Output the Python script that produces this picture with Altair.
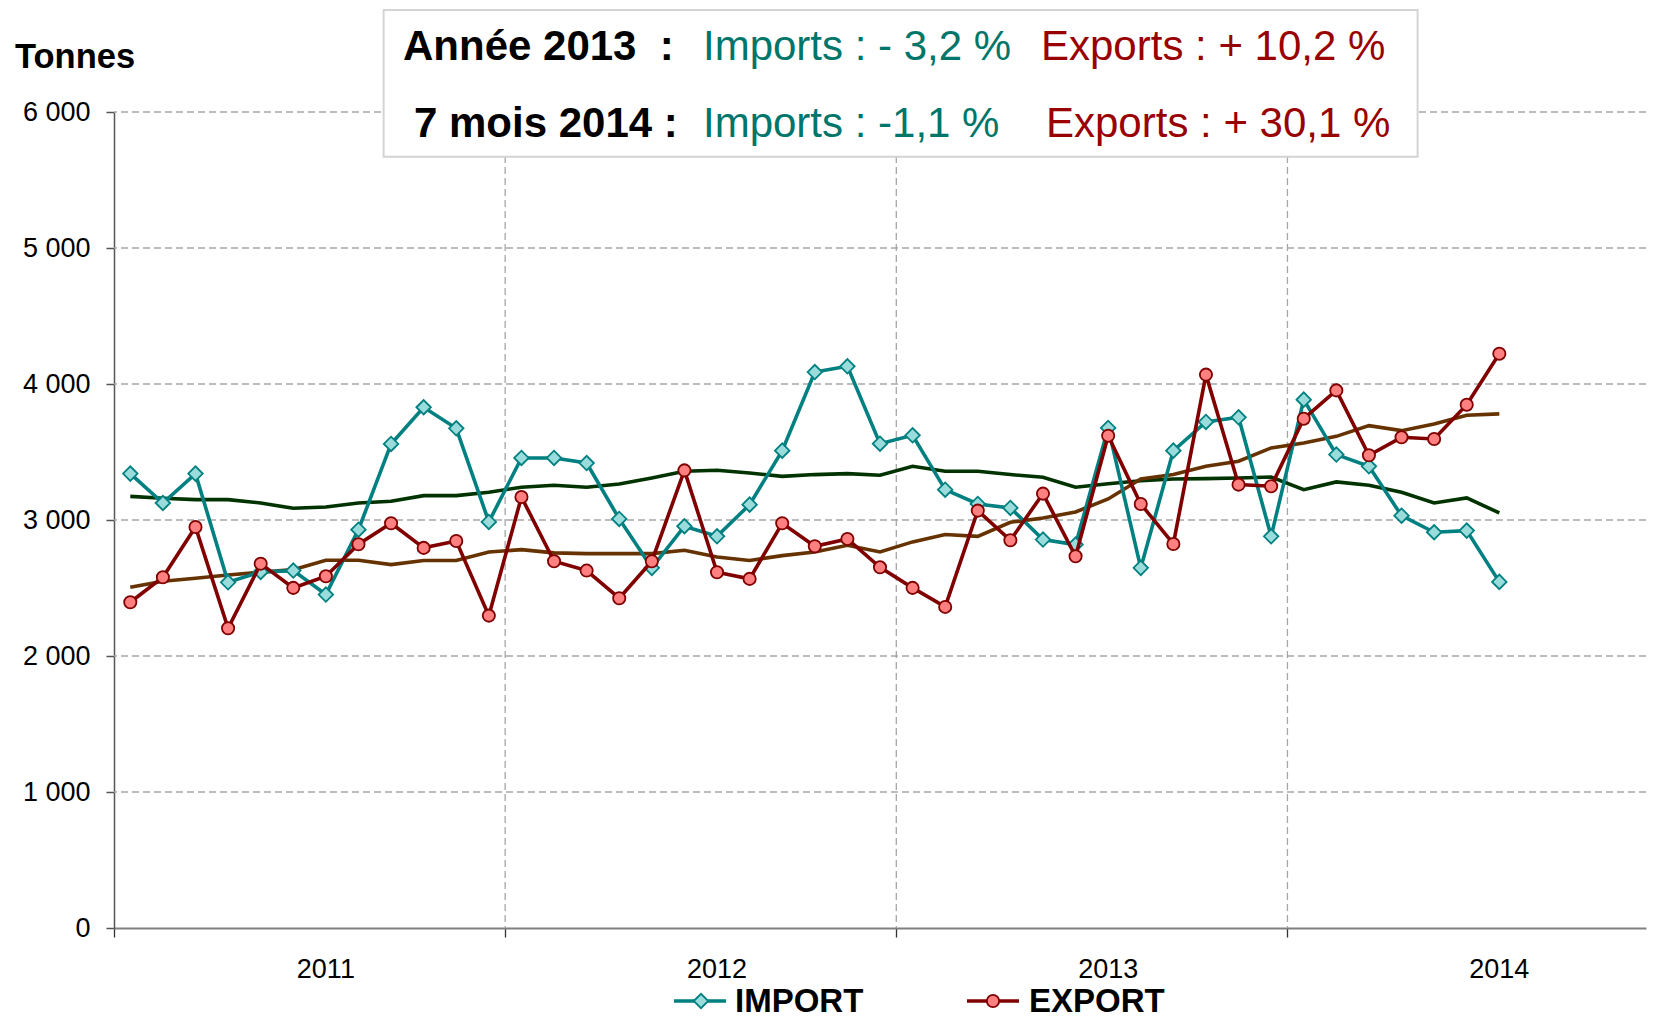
import altair as alt
import pandas as pd

# ---------------- data ----------------
years = [2011, 2012, 2013, 2014]

imports = [3341, 3125, 3341, 2542, 2618, 2628, 2452, 2929, 3559, 3829, 3674, 2986,
           3456, 3456, 3419, 3008, 2648, 2954, 2880, 3113, 3510, 4088, 4130, 3561,
           3623, 3223, 3118, 3089, 2856, 2819, 3677, 2648, 3510, 3721, 3755, 2880,
           3885, 3481, 3395, 3032, 2910, 2922, 2545]

exports = [2395, 2579, 2949, 2204, 2679, 2501, 2586, 2822, 2976, 2795, 2846, 2297,
           3169, 2697, 2628, 2425, 2697, 3365, 2616, 2567, 2976, 2807, 2861, 2652,
           2501, 2361, 3069, 2851, 3194, 2733, 3620, 3118, 2824, 4069, 3260, 3248,
           3745, 3953, 3476, 3608, 3596, 3848, 4223]

imports_ma = [3174, 3160, 3150, 3150, 3125, 3086, 3096, 3125, 3138, 3179, 3179, 3204,
              3241, 3255, 3241, 3265, 3309, 3358, 3366, 3346, 3321, 3334, 3341, 3329,
              3395, 3358, 3358, 3334, 3314, 3241, 3267, 3289, 3302, 3304, 3309, 3316,
              3223, 3280, 3255, 3204, 3125, 3162, 3052]

exports_ma = [2505, 2550, 2572, 2596, 2616, 2635, 2704, 2704, 2672, 2702, 2702, 2765,
              2782, 2758, 2753, 2753, 2753, 2777, 2728, 2702, 2738, 2765, 2814, 2765,
              2839, 2893, 2880, 2983, 3015, 3059, 3155, 3302, 3334, 3395, 3432, 3530,
              3566, 3615, 3694, 3657, 3706, 3770, 3780]

y_ticks = [0, 1000, 2000, 3000, 4000, 5000, 6000]
year_bounds = [12, 24, 36]

title_l1 = ["Année 2013\u00a0\u00a0:", "Imports : - 3,2 %", "Exports : + 10,2 %"]
title_l2 = ["7 mois 2014 :", "Imports : -1,1 %", "Exports : + 30,1 %"]
legend_labels = ["IMPORT", "EXPORT"]

# ---------------- tables ----------------
n = len(imports)
df = pd.DataFrame({
    "t": [i + 0.5 for i in range(n)],
    "imp": imports, "exp": exports,
    "imp_ma": imports_ma, "exp_ma": exports_ma,
})
years_df = pd.DataFrame({"year": years})
one = pd.DataFrame({"k": [0]})

FONT = "Liberation Sans"
TEAL = "#008080"
TEAL_FILL = "#9adcdc"
DRED = "#800000"
RED_FILL = "#ff8080"
TEAL_TXT = "#00766a"
RED_TXT = "#990000"

DIAMOND = 210
CIRCLE = 150
LW = 3.6

xscale = alt.Scale(domain=[0, 47], nice=False, zero=False)
yscale = alt.Scale(domain=[0, 6000], nice=False, zero=True)

xaxis = alt.Axis(values=[0, 12, 24, 36], labels=False, title=None, grid=False,
                 tickSize=9, tickColor="#333333", tickWidth=1.3,
                 domainColor="#7f7f7f", domainWidth=2.2)
yaxis = alt.Axis(values=y_ticks, title=None, grid=False,
                 labelExpr="replace(format(datum.value, ','), ',', ' ')",
                 labelFont=FONT, labelFontSize=27, labelColor="#000000",
                 labelPadding=16, labelOverlap=False,
                 tickSize=8, tickColor="#555555", tickWidth=1.5,
                 domainColor="#555555", domainWidth=1.5)

X = alt.X("t:Q", scale=xscale, axis=xaxis)

hgrid = alt.Chart(pd.DataFrame({"v": y_ticks[1:]})).mark_rule(
    color="#a6a6a6", strokeDash=[7, 4], strokeWidth=1.3
).encode(y=alt.Y("v:Q", scale=yscale, axis=yaxis))

vgrid = alt.Chart(pd.DataFrame({"b": year_bounds})).mark_rule(
    color="#a6a6a6", strokeDash=[7, 4], strokeWidth=1.3
).encode(x=alt.X("b:Q", scale=xscale, axis=xaxis))

base = alt.Chart(df)

imp_ma_line = base.mark_line(color="#003300", strokeWidth=LW).encode(
    x=X, y=alt.Y("imp_ma:Q", scale=yscale, axis=yaxis))
exp_ma_line = base.mark_line(color="#663300", strokeWidth=LW).encode(
    x=X, y=alt.Y("exp_ma:Q", scale=yscale, axis=yaxis))
imp_line = base.mark_line(color=TEAL, strokeWidth=LW).encode(
    x=X, y=alt.Y("imp:Q", scale=yscale, axis=yaxis))
imp_pts = base.mark_point(shape="diamond", filled=True, fill=TEAL_FILL, stroke=TEAL,
                          strokeWidth=1.8, size=DIAMOND, opacity=1).encode(
    x=X, y=alt.Y("imp:Q", scale=yscale, axis=yaxis))
exp_line = base.mark_line(color=DRED, strokeWidth=LW).encode(
    x=X, y=alt.Y("exp:Q", scale=yscale, axis=yaxis))
exp_pts = base.mark_point(shape="circle", filled=True, fill=RED_FILL, stroke=DRED,
                          strokeWidth=1.8, size=CIRCLE, opacity=1).encode(
    x=X, y=alt.Y("exp:Q", scale=yscale, axis=yaxis))

year_labels = alt.Chart(years_df).transform_calculate(
    pos="(datum.year - 2011) * 12 + 6.5"
).mark_text(font=FONT, fontSize=27, color="#000000", align="center",
            baseline="alphabetic").encode(
    x=alt.X("pos:Q", scale=xscale, axis=xaxis),
    y=alt.value(866),
    text="year:N")

box = alt.Chart(one).mark_rect(fill="white", stroke="#d4d4d4", strokeWidth=2).encode(
    x=alt.value(269.6), x2=alt.value(1303.6), y=alt.value(-102), y2=alt.value(44.7))


def txt(s, x, y, color, size=42, weight="normal"):
    return alt.Chart(one).mark_text(
        text=s, font=FONT, fontSize=size, fontWeight=weight, color=color,
        align="left", baseline="alphabetic"
    ).encode(x=alt.value(x), y=alt.value(y))


titles = [
    txt(title_l1[0], 289, -52, "#000000", weight="bold"),
    txt(title_l1[1], 589, -52, TEAL_TXT),
    txt(title_l1[2], 927, -52, RED_TXT),
    txt(title_l2[0], 300, 24.7, "#000000", weight="bold"),
    txt(title_l2[1], 589, 24.7, TEAL_TXT),
    txt(title_l2[2], 932, 24.7, RED_TXT),
    txt("Tonnes", -99, -44, "#000000", size=34.5, weight="bold"),
]

# legend
LY = 889
leg_imp_line = alt.Chart(one).mark_rule(color=TEAL, strokeWidth=LW).encode(
    x=alt.value(560), x2=alt.value(612), y=alt.value(LY))
leg_imp_pt = alt.Chart(one).mark_point(shape="diamond", filled=True, fill=TEAL_FILL,
                                       stroke=TEAL, strokeWidth=1.8, size=DIAMOND,
                                       opacity=1).encode(
    x=alt.value(587), y=alt.value(LY))
leg_exp_line = alt.Chart(one).mark_rule(color=DRED, strokeWidth=LW).encode(
    x=alt.value(853), x2=alt.value(905), y=alt.value(LY))
leg_exp_pt = alt.Chart(one).mark_point(shape="circle", filled=True, fill=RED_FILL,
                                       stroke=DRED, strokeWidth=1.8, size=CIRCLE,
                                       opacity=1).encode(
    x=alt.value(879), y=alt.value(LY))
leg_txt = [
    txt(legend_labels[0], 621, 900, "#000000", size=33, weight="bold"),
    txt(legend_labels[1], 915, 900, "#000000", size=33, weight="bold"),
]

chart = alt.layer(
    hgrid, vgrid, imp_ma_line, exp_ma_line, imp_line, imp_pts, exp_line, exp_pts,
    year_labels, box, *titles,
    leg_imp_line, leg_imp_pt, leg_exp_line, leg_exp_pt, *leg_txt
).properties(
    width=1532, height=816,
    autosize=alt.AutoSizeParams(type="none"),
    padding={"left": 106, "top": 104, "right": 5, "bottom": 92},
    background="white",
).configure_view(stroke=None)

chart.save("out.html", embed_options={"renderer": "svg", "actions": False})
